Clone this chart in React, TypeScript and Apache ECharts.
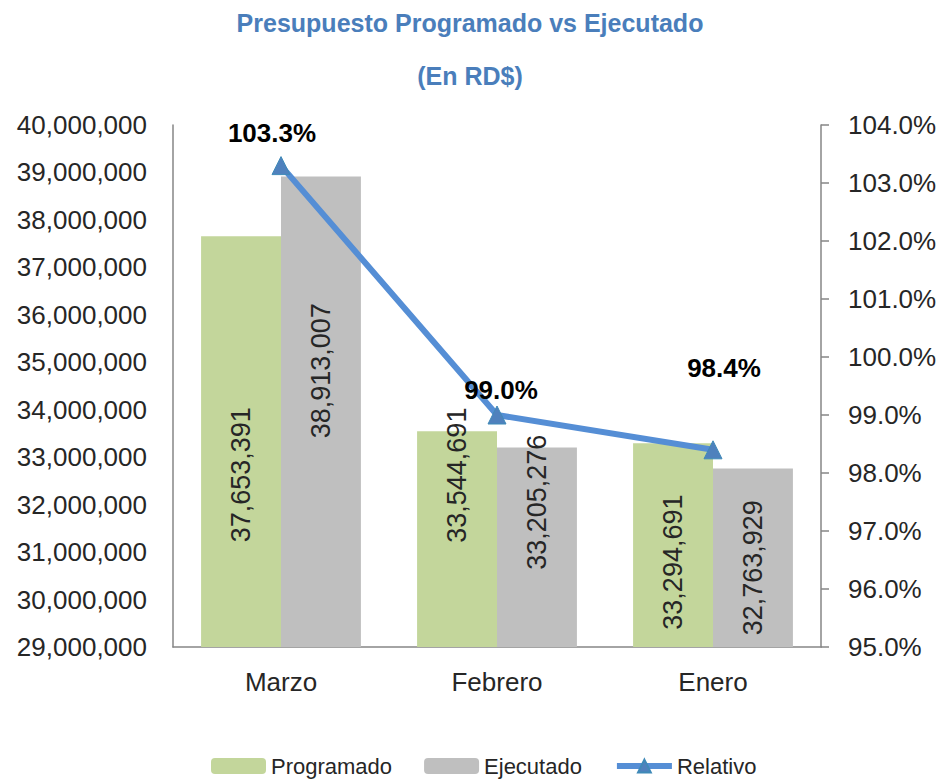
import React, { useEffect, useRef } from "react";
import * as echarts from "echarts";

const categories = ["Marzo", "Febrero", "Enero"];
const programado = [37653391, 33544691, 33294691];
const ejecutado = [38913007, 33205276, 32763929];
const relativo = [103.3, 99.0, 98.4];
const seriesNames = ["Programado", "Ejecutado", "Relativo"];
const titleText = "Presupuesto Programado vs Ejecutado";
const subtitleText = "(En RD$)";

// label placement tweaks (style only)
const progLabelShift = [-33, 64, -17];
const ejecLabelShift = [41, 45, -10];
const relLabelOffset: [number, number][] = [[-9, -5], [4, 2], [11, -54]];

const FONT = "'Liberation Sans', Arial, sans-serif";
const fmtNum = (v: number) => Math.round(v).toLocaleString("en-US");

export default function App() {
  const ref = useRef<HTMLDivElement>(null);
  useEffect(() => {
    document.body.style.margin = "0";
    const chart = echarts.init(ref.current!, null, { renderer: "svg" });
    const barLabel = {
      show: true,
      position: "inside",
      rotate: 90,
      fontSize: 27,
      fontFamily: FONT,
      color: "#262626",
      formatter: (p: any) => fmtNum(p.value),
    };
    chart.setOption({
      animation: false,
      backgroundColor: "#ffffff",
      textStyle: { fontFamily: FONT },
      title: [
        {
          text: titleText,
          left: "center",
          top: 5,
          textStyle: { fontSize: 25, fontWeight: "bold", color: "#4A7EBB", fontFamily: FONT },
        },
        {
          text: subtitleText,
          left: "center",
          top: 58,
          textStyle: { fontSize: 25, fontWeight: "bold", color: "#4A7EBB", fontFamily: FONT },
        },
      ],
      legend: {
        bottom: 0,
        left: 206,
        itemWidth: 55,
        itemHeight: 16,
        itemGap: 32,
        textStyle: { fontSize: 22, color: "#262626", fontFamily: FONT },
        data: [
          { name: seriesNames[0] },
          { name: seriesNames[1] },
          { name: seriesNames[2], lineStyle: { width: 6, color: "#558ED5" } },
        ],
      },
      grid: { left: 173, right: 119, top: 125, bottom: 135, containLabel: false },
      xAxis: {
        type: "category",
        data: categories,
        axisLine: { lineStyle: { color: "#868686", width: 1.5 } },
        axisTick: { show: false },
        axisLabel: { fontSize: 26, color: "#262626", margin: 22, fontFamily: FONT },
      },
      yAxis: [
        {
          type: "value",
          min: 29000000,
          max: 40000000,
          interval: 1000000,
          splitLine: { show: false },
          axisLine: { show: true, lineStyle: { color: "#868686", width: 1.5 } },
          axisTick: { show: false },
          axisLabel: {
            fontSize: 26,
            color: "#262626",
            margin: 26,
            fontFamily: FONT,
            formatter: (v: number) => fmtNum(v),
          },
        },
        {
          type: "value",
          min: 95,
          max: 104,
          interval: 1,
          position: "right",
          splitLine: { show: false },
          axisLine: { show: true, lineStyle: { color: "#868686", width: 1.5 } },
          axisTick: { show: true, length: 8, lineStyle: { color: "#868686", width: 1.5 } },
          axisLabel: {
            fontSize: 26,
            color: "#262626",
            margin: 27,
            fontFamily: FONT,
            formatter: (v: number) => v.toFixed(1) + "%",
          },
        },
      ],
      series: [
        {
          name: seriesNames[0],
          type: "bar",
          barGap: "0%",
          barCategoryGap: "26%",
          itemStyle: { color: "#C3D69B" },
          data: programado.map((v, i) => ({
            value: v,
            label: { ...barLabel, offset: [progLabelShift[i], 0] },
          })),
        },
        {
          name: seriesNames[1],
          type: "bar",
          barGap: "0%",
          barCategoryGap: "26%",
          itemStyle: { color: "#BFBFBF" },
          data: ejecutado.map((v, i) => ({
            value: v,
            label: { ...barLabel, offset: [ejecLabelShift[i], 0] },
          })),
        },
        {
          name: seriesNames[2],
          type: "line",
          yAxisIndex: 1,
          z: 5,
          symbol: "triangle",
          symbolSize: 18,
          lineStyle: { color: "#558ED5", width: 6 },
          itemStyle: { color: "#4F81BD", borderColor: "#3F8AB8", borderWidth: 1 },
          data: relativo.map((v, i) => ({
            value: v,
            label: {
              show: true,
              position: "top",
              offset: relLabelOffset[i],
              fontSize: 26,
              fontWeight: "bold",
              color: "#000000",
              fontFamily: FONT,
              formatter: (p: any) => Number(p.value).toFixed(1) + "%",
            },
          })),
        },
      ],
    });
    return () => chart.dispose();
  }, []);
  return <div ref={ref} style={{ width: 940, height: 782 }} />;
}
